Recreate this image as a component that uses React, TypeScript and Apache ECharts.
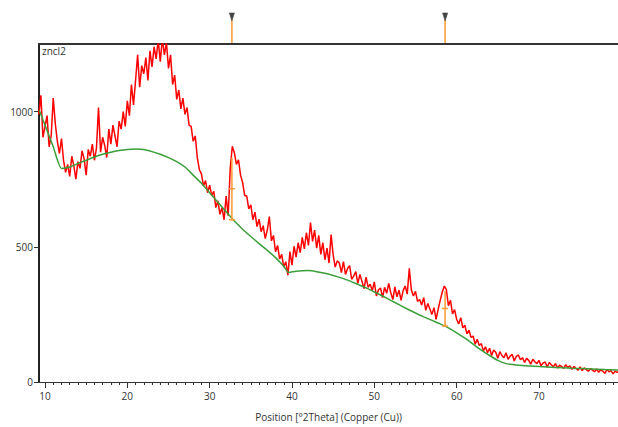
import React, { useEffect, useRef } from "react";
import * as echarts from "echarts";

// Measured pattern (red), sampled every 0.25 deg starting at 9.0 deg 2Theta
const RED_START = 9;
const RED_STEP = 0.25;
const RED_VALUES = [
  1010, 990, 1060, 905,
  945, 985, 870, 910,
  1050, 955, 890, 845,
  900, 820, 775, 805,
  760, 835, 800, 750,
  815, 790, 855, 825,
  765, 860, 835, 880,
  820, 865, 1015, 850,
  905, 875, 830, 935,
  880, 950, 910, 870,
  965, 935, 1000, 945,
  1040, 985, 1100, 1025,
  1115, 1210, 1090, 1170,
  1140, 1200, 1115, 1225,
  1165, 1240, 1195, 1265,
  1185, 1270, 1210, 1255,
  1160, 1210, 1100, 1135,
  1045, 1080, 1010, 1050,
  990, 1015, 950, 945,
  890, 910, 830, 785,
  770, 725, 745, 700,
  728, 690, 705, 645,
  670, 620, 645, 600,
  688, 615, 790, 872,
  848, 805, 822, 765,
  738, 690, 688, 640,
  655, 600, 628, 575,
  602, 556, 578, 530,
  562, 612, 522, 542,
  482, 505, 455, 472,
  425, 445, 395, 482,
  432, 502, 462, 515,
  478, 535, 492, 552,
  505, 590, 520, 562,
  495, 542, 472, 515,
  452, 495, 440, 545,
  470, 425, 448, 440,
  405, 445, 398, 420,
  430, 380, 392, 408,
  365, 398, 372, 345,
  388, 350, 362, 338,
  370, 318, 340, 348,
  312, 350, 328, 365,
  330, 305, 352, 315,
  340, 302, 338, 355,
  325, 420, 340, 318,
  335, 298, 305, 285,
  312, 265, 290, 270,
  250, 275, 232, 268,
  302, 332, 355, 342,
  282, 302, 252, 268,
  232, 215, 238, 200,
  210, 178, 192, 165,
  170, 140, 158, 135,
  142, 115, 130, 108,
  125, 98, 118, 110,
  88, 112, 98, 90,
  108, 84, 96, 102,
  78, 95, 100, 82,
  90, 72, 88, 80,
  66, 84, 75, 68,
  80, 60, 70, 74,
  55, 72, 64, 56,
  68, 52, 62, 58,
  50, 64, 54, 60,
  47, 58, 50, 44,
  56, 42, 52, 46,
  40, 50, 44, 38,
  48, 36, 45, 40,
  32, 46, 38, 42,
  30, 40, 36, 38,
];

// Background curve (green)
const BG_THETA = [9.3, 10, 11, 12, 13, 14, 15, 16, 17, 18, 19, 20, 21, 22, 23, 24, 25, 26, 27, 28, 29, 30, 31, 32, 33, 34, 35, 36, 37, 38, 39, 39.6, 40.5, 42, 43, 44, 45, 46, 47, 48, 49, 50, 51, 52, 53, 54, 55, 56, 57, 58, 59, 60, 61, 62, 63, 64, 65, 66, 67, 68, 69, 70, 72, 74, 76, 78, 79.6];
const BG_VALUES = [1005, 950, 870, 790, 795, 808, 820, 832, 842, 850, 856, 860, 862, 860, 852, 842, 830, 815, 795, 765, 735, 700, 665, 630, 595, 565, 538, 512, 487, 460, 428, 405, 410, 412, 408, 402, 394, 385, 374, 361, 348, 333, 318, 302, 286, 270, 255, 241, 228, 215, 200, 182, 162, 140, 118, 98, 80, 68, 64, 61, 59, 57, 54, 51, 49, 46, 44];

// Identified peaks
const PEAK_POS = [32.7, 58.6];
const PEAK_BASE = [600, 207];
const PEAK_TOP = [830, 337];

const X_MIN = 9.27;
const X_MAX = 79.6;
const Y_MAX = 1250;
const X_MAJOR = [10, 20, 30, 40, 50, 60, 70];
const X_MINOR = Array.from({ length: 70 }, (_, i) => 10 + i);
const Y_TICKS = [0, 500, 1000];

const FONT = "'Open Sans', 'Noto Sans', sans-serif";

export default function App() {
  const ref = useRef<HTMLDivElement>(null);
  useEffect(() => {
    if (!ref.current) return;
    const chart = echarts.init(ref.current, null, { renderer: "svg" });
    const redData = RED_VALUES.map((v, i) => [RED_START + i * RED_STEP, v]);
    const bgData = BG_THETA.map((t, i) => [t, BG_VALUES[i]]);
    const peakData = PEAK_POS.map((p, i) => [p, PEAK_BASE[i], PEAK_TOP[i]]);
    const markerData = PEAK_POS.map((p) => [p, Y_MAX]);

    chart.setOption({
      animation: false,
      backgroundColor: "#ffffff",
      grid: { left: 39, right: 0, top: 44, bottom: 45, containLabel: false },
      xAxis: [
        {
          type: "value",
          min: X_MIN,
          max: X_MAX,
          position: "bottom",
          name: "Position [°2Theta] (Copper (Cu))",
          nameLocation: "middle",
          nameGap: 30,
          nameTextStyle: { color: "#333", fontSize: 10, fontFamily: FONT },
          axisLine: { show: true, onZero: false, lineStyle: { color: "#333", width: 1 } },
          axisTick: { show: true, length: 6, customValues: X_MAJOR, lineStyle: { color: "#333" } },
          axisLabel: { show: true, customValues: X_MAJOR, color: "#333", fontSize: 10, fontFamily: FONT, margin: 9 },
          splitLine: { show: false },
        },
        {
          type: "value",
          min: X_MIN,
          max: X_MAX,
          position: "bottom",
          axisLine: { show: false, onZero: false },
          axisTick: { show: true, length: 3, customValues: X_MINOR, lineStyle: { color: "#333" } },
          axisLabel: { show: false },
          splitLine: { show: false },
        },
        {
          type: "value",
          min: X_MIN,
          max: X_MAX,
          position: "top",
          axisLine: { show: true, onZero: false, lineStyle: { color: "#333", width: 2 } },
          axisTick: { show: false },
          axisLabel: { show: false },
          splitLine: { show: false },
        },
      ],
      yAxis: {
        type: "value",
        min: 0,
        max: Y_MAX,
        axisLine: { show: true, onZero: false, lineStyle: { color: "#222", width: 2 } },
        axisTick: { show: true, length: 5, customValues: Y_TICKS, lineStyle: { color: "#333" } },
        axisLabel: {
          show: true,
          customValues: Y_TICKS,
          formatter: (v: number) => String(v),
          color: "#333",
          fontSize: 10,
          fontFamily: FONT,
          margin: 6,
        },
        splitLine: { show: false },
      },
      graphic: [
        {
          type: "text",
          left: 42,
          top: 46,
          style: { text: "zncl2", fill: "#333", fontSize: 10, fontFamily: FONT },
        },
      ],
      series: [
        {
          type: "line",
          data: redData,
          xAxisIndex: 0,
          showSymbol: false,
          symbol: "none",
          clip: true,
          lineStyle: { color: "#ff0000", width: 1.5 },
          z: 3,
        },
        {
          type: "line",
          data: bgData,
          xAxisIndex: 0,
          showSymbol: false,
          symbol: "none",
          smooth: 0.2,
          lineStyle: { color: "#3a9e3a", width: 1.5 },
          z: 4,
        },
        {
          type: "custom",
          xAxisIndex: 0,
          data: peakData,
          z: 5,
          renderItem: (params: any, api: any) => {
            const p = api.value(0);
            const base = api.coord([p, api.value(1)]);
            const top = api.coord([p, api.value(2)]);
            const mid = api.coord([p, (api.value(1) + api.value(2)) / 2]);
            const st = { stroke: "#ff9933", lineWidth: 1.5 };
            return {
              type: "group",
              children: [
                { type: "line", shape: { x1: base[0], y1: base[1], x2: top[0], y2: top[1] }, style: st },
                { type: "line", shape: { x1: base[0] - 3, y1: base[1], x2: base[0] + 3, y2: base[1] }, style: st },
                { type: "line", shape: { x1: mid[0] - 3, y1: mid[1], x2: mid[0] + 3, y2: mid[1] }, style: st },
              ],
            };
          },
        },
        {
          type: "custom",
          xAxisIndex: 0,
          data: markerData,
          clip: false,
          z: 6,
          renderItem: (params: any, api: any) => {
            const pt = api.coord([api.value(0), api.value(1)]);
            const x = pt[0];
            const y = pt[1];
            return {
              type: "group",
              children: [
                { type: "line", shape: { x1: x, y1: y - 1, x2: x, y2: y - 24 }, style: { stroke: "#ff9933", lineWidth: 1.5 } },
                {
                  type: "polygon",
                  shape: { points: [[x - 2.5, y - 31], [x + 2.5, y - 31], [x, y - 23]] },
                  style: { fill: "#444", stroke: "#444", lineWidth: 0.6 },
                },
              ],
            };
          },
        },
      ],
    });
    return () => chart.dispose();
  }, []);
  return (
    <div
      ref={ref}
      style={{ position: "fixed", left: 0, top: 0, width: 618, height: 427, background: "#fff" }}
    />
  );
}
